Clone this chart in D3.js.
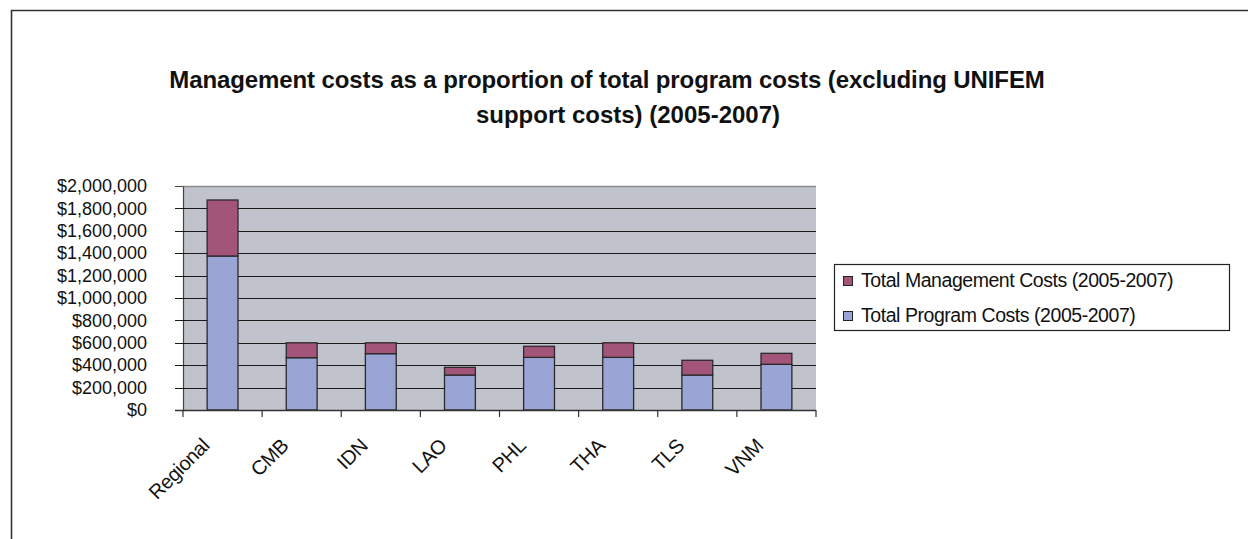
<!DOCTYPE html>
<html>
<head>
<meta charset="utf-8">
<script src="https://cdn.jsdelivr.net/npm/d3@7"></script>
<style>
  html, body { margin: 0; padding: 0; background: #ffffff; }
  svg { display: block; }
  text { font-family: "Liberation Sans", Arial, sans-serif; fill: #111; }
</style>
</head>
<body>
<svg id="chart" width="1248" height="539"></svg>
<script>
// ---- data ----
const categories = ["Regional", "CMB", "IDN", "LAO", "PHL", "THA", "TLS", "VNM"];
const programCosts = [1375000, 467000, 503000, 312000, 470000, 470000, 312000, 408000];
const managementCosts = [500000, 133000, 97000, 69000, 99000, 130000, 132000, 98000];
const yTicks = [0, 200000, 400000, 600000, 800000, 1000000, 1200000, 1400000, 1600000, 1800000, 2000000];
const seriesNames = ["Total Program Costs (2005-2007)", "Total Management Costs (2005-2007)"];
const titleLines = ["Management costs as a proportion of total program costs (excluding UNIFEM", "support costs) (2005-2007)"];

const colors = { program: "#9aa5d5", management: "#a35579" };

const svg = d3.select("#chart");

// outer frame
svg.append("path")
  .attr("d", "M11.5,539 L11.5,10.5 L1248,10.5")
  .attr("fill", "none").attr("stroke", "#333").attr("stroke-width", 1.6);

// title
svg.append("text").attr("x", 607).attr("y", 88).attr("text-anchor", "middle")
  .attr("font-size", 24).attr("font-weight", "bold").attr("letter-spacing", -0.1).text(titleLines[0]);
svg.append("text").attr("x", 628).attr("y", 123).attr("text-anchor", "middle")
  .attr("font-size", 24).attr("font-weight", "bold").text(titleLines[1]);

// scales
const x = d3.scaleBand().domain(categories).range([183, 816]).padding(0);
const y = d3.scaleLinear().domain([0, 2000000]).range([410, 186]);

// plot background
svg.append("rect").attr("x", 183).attr("y", 186).attr("width", 816 - 183).attr("height", 410 - 186)
  .attr("fill", "#c0c3cb");
svg.append("line").attr("x1", 183).attr("x2", 816).attr("y1", 186.5).attr("y2", 186.5)
  .attr("stroke", "#8a8a8a").attr("stroke-width", 1.5);

// y axis with gridlines
const yAxis = d3.axisLeft(y).tickValues(yTicks)
  .tickSize(0)
  .tickFormat(d => "$" + d3.format(",")(d));
const gy = svg.append("g").attr("transform", "translate(183,0)").call(yAxis);
gy.select(".domain").attr("stroke", "#444").attr("stroke-width", 1.2);
gy.selectAll(".tick text").attr("x", -36).attr("font-size", 18)
  .attr("font-family", "'Liberation Sans', Arial, sans-serif").attr("fill", "#111");

// gridlines
svg.append("g").selectAll("line").data(yTicks.filter(d => d > 0 && d < 2000000)).join("line")
  .attr("x1", 175).attr("x2", 816)
  .attr("y1", d => Math.round(y(d)) + 0.5).attr("y2", d => Math.round(y(d)) + 0.5)
  .attr("stroke", "#1a1a1a").attr("stroke-width", 1);
svg.append("line").attr("x1", 175).attr("x2", 183).attr("y1", 186.5).attr("y2", 186.5)
  .attr("stroke", "#444");

// stacked bars
const rows = categories.map((c, i) => ({ cat: c, program: programCosts[i], management: managementCosts[i] }));
const stack = d3.stack().keys(["program", "management"]);
const layers = stack(rows);
const barW = x.bandwidth() * 0.39;

svg.append("g").selectAll("g").data(layers).join("g")
  .attr("fill", d => colors[d.key])
  .selectAll("rect").data(d => d).join("rect")
  .attr("x", d => x(d.data.cat) + x.bandwidth() / 2 - barW / 2)
  .attr("y", d => y(d[1]))
  .attr("width", barW)
  .attr("height", d => y(d[0]) - y(d[1]))
  .attr("stroke", "#2a2a2a").attr("stroke-width", 1.3);

// x axis
const xAxis = d3.axisBottom(x).tickSize(0).tickFormat("");
const gx = svg.append("g").attr("transform", "translate(0,410)").call(xAxis);
gx.select(".domain").remove();
svg.append("line").attr("x1", 175).attr("x2", 816).attr("y1", 410.5).attr("y2", 410.5)
  .attr("stroke", "#333").attr("stroke-width", 1.3);
const boundaries = categories.map(c => x(c)).concat([x.range()[1]]);
svg.append("g").selectAll("line").data(boundaries).join("line")
  .attr("x1", d => d).attr("x2", d => d).attr("y1", 410).attr("y2", 417)
  .attr("stroke", "#333").attr("stroke-width", 1.2);

// category labels
svg.append("g").selectAll("text").data(categories).join("text")
  .attr("transform", d => `translate(${x(d) + x.bandwidth() / 2 - 12},${447}) rotate(-45)`)
  .attr("text-anchor", "end").attr("font-size", 20).attr("letter-spacing", -0.4).text(d => d);

// legend
const lg = svg.append("g");
lg.append("rect").attr("x", 834.5).attr("y", 264.5).attr("width", 395).attr("height", 66)
  .attr("fill", "#fff").attr("stroke", "#222").attr("stroke-width", 1.2);
const legendItems = [
  { name: seriesNames[1], color: colors.management, y: 287 },
  { name: seriesNames[0], color: colors.program, y: 322 }
];
legendItems.forEach(it => {
  lg.append("rect").attr("x", 843.5).attr("y", it.y - 10.5).attr("width", 9).attr("height", 9)
    .attr("fill", it.color).attr("stroke", "#222").attr("stroke-width", 1);
  lg.append("text").attr("x", 861).attr("y", it.y).attr("font-size", 19.5)
    .attr("letter-spacing", -0.45).text(it.name);
});
</script>
</body>
</html>
